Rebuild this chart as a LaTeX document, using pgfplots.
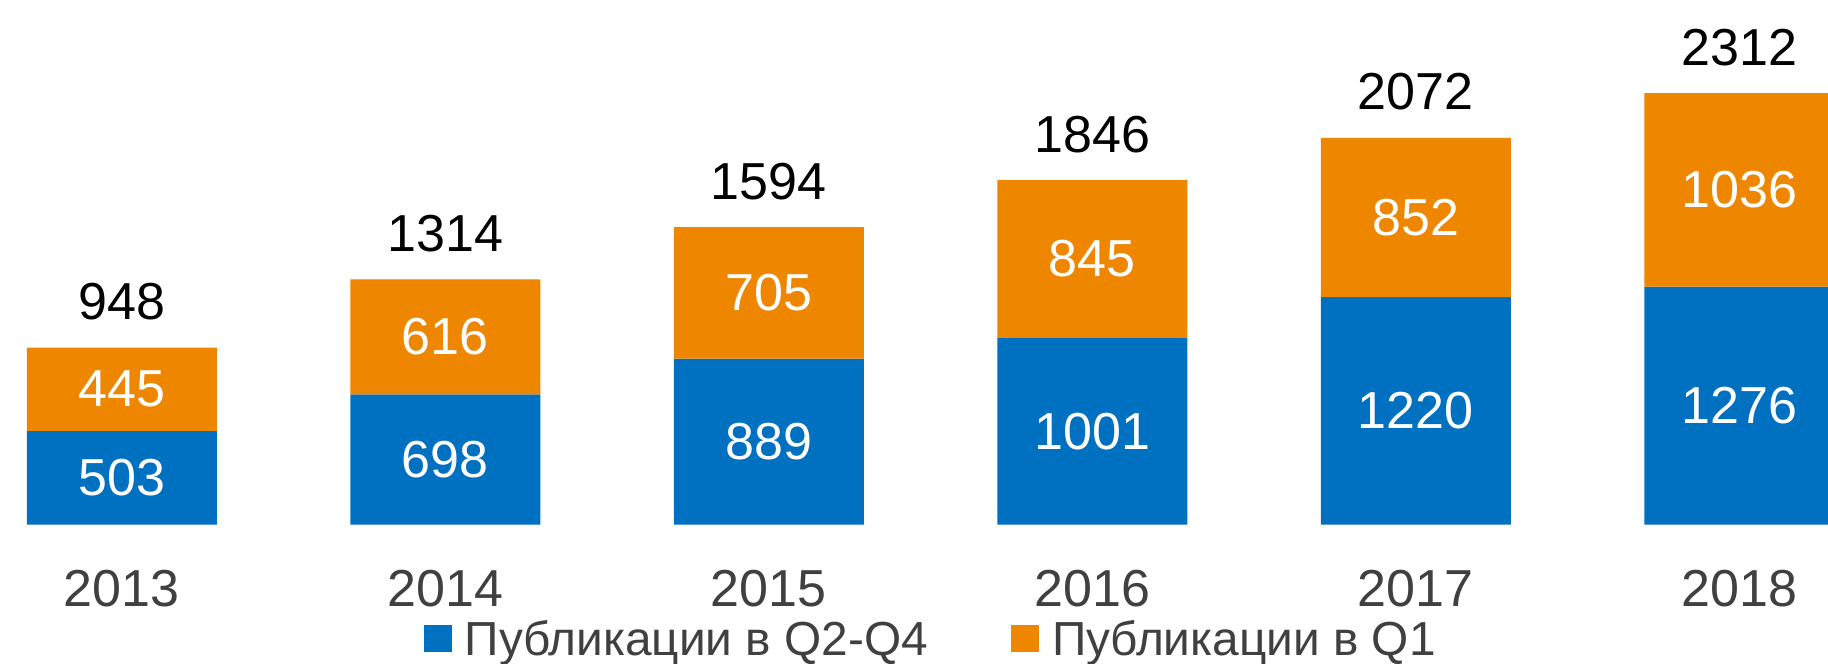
\documentclass[border=0pt]{standalone}
\usepackage{fontspec}
\setmainfont{Liberation Sans}
\usepackage{pgfplots}
\pgfplotsset{compat=1.18}
\definecolor{cblue}{RGB}{0,112,192}
\definecolor{corange}{RGB}{238,134,0}
\definecolor{tgrey}{RGB}{64,64,64}
\newcommand{\lblfont}{\fontsize{14.8}{17}\selectfont}
\begin{document}
\begin{tikzpicture}
\begin{axis}[
  anchor=origin, at={(0,0)},
  x=32.35mm, y=0.018655mm,
  xmin=-0.6, xmax=5.6, ymin=0, ymax=2400,
  clip=false,
  axis line style={draw=none},
  ytick=\empty,
  xtick={0,1,2,3,4,5},
  xticklabels={2013,2014,2015,2016,2017,2018},
  major tick length=0pt,
  xticklabel style={anchor=base, yshift=-8.2mm, font=\lblfont, text=tgrey},
  legend columns=2,
  legend style={at={(axis cs:0.931,-622)}, anchor=west, draw=none, fill=none, inner sep=0pt,
    font=\fontsize{13.6}{15}\selectfont, text=tgrey,
    nodes={inner sep=0pt},
    /tikz/every odd column/.append style={column sep=1.3mm},
    /tikz/every even column/.append style={column sep=8.3mm}},
]
\addplot[ybar, stack plots=y, bar width=19mm, bar shift=0pt, fill=cblue, draw=none,
  legend image code/.code={\fill[cblue] (0mm,-1.1mm) rectangle (2.8mm,1.6mm);}]
  coordinates {(0,503) (1,698) (2,889) (3,1001) (4,1220) (5,1276)};
\addlegendentry{Публикации в Q2-Q4}
\addplot[ybar, stack plots=y, bar width=19mm, bar shift=0pt, fill=corange, draw=none,
  legend image code/.code={\fill[corange] (0mm,-1.1mm) rectangle (2.8mm,1.6mm);}]
  coordinates {(0,445) (1,616) (2,705) (3,845) (4,852) (5,1036)};
\addlegendentry{Публикации в Q1}
% labels inside blue segments
\addplot[draw=none, stack plots=false, forget plot, nodes near coords, point meta=explicit symbolic,
  every node near coord/.append style={anchor=center, text=white, font=\lblfont}]
  coordinates {(0,251.5)[503] (1,349)[698] (2,444.5)[889] (3,500.5)[1001] (4,610)[1220] (5,638)[1276]};
% labels inside orange segments
\addplot[draw=none, stack plots=false, forget plot, nodes near coords, point meta=explicit symbolic,
  every node near coord/.append style={anchor=center, text=white, font=\lblfont}]
  coordinates {(0,725.5)[445] (1,1006)[616] (2,1241.5)[705] (3,1423.5)[845] (4,1646)[852] (5,1794)[1036]};
% totals
\addplot[draw=none, stack plots=false, forget plot, nodes near coords, point meta=explicit symbolic,
  every node near coord/.append style={anchor=base, yshift=2.8mm, text=black, font=\lblfont}]
  coordinates {(0,948)[948] (1,1314)[1314] (2,1594)[1594] (3,1846)[1846] (4,2072)[2072] (5,2312)[2312]};
\end{axis}
\pgfresetboundingbox
\useasboundingbox (-12.18mm,-13.84mm) rectangle (170.62mm,52.46mm);
\end{tikzpicture}
\end{document}
